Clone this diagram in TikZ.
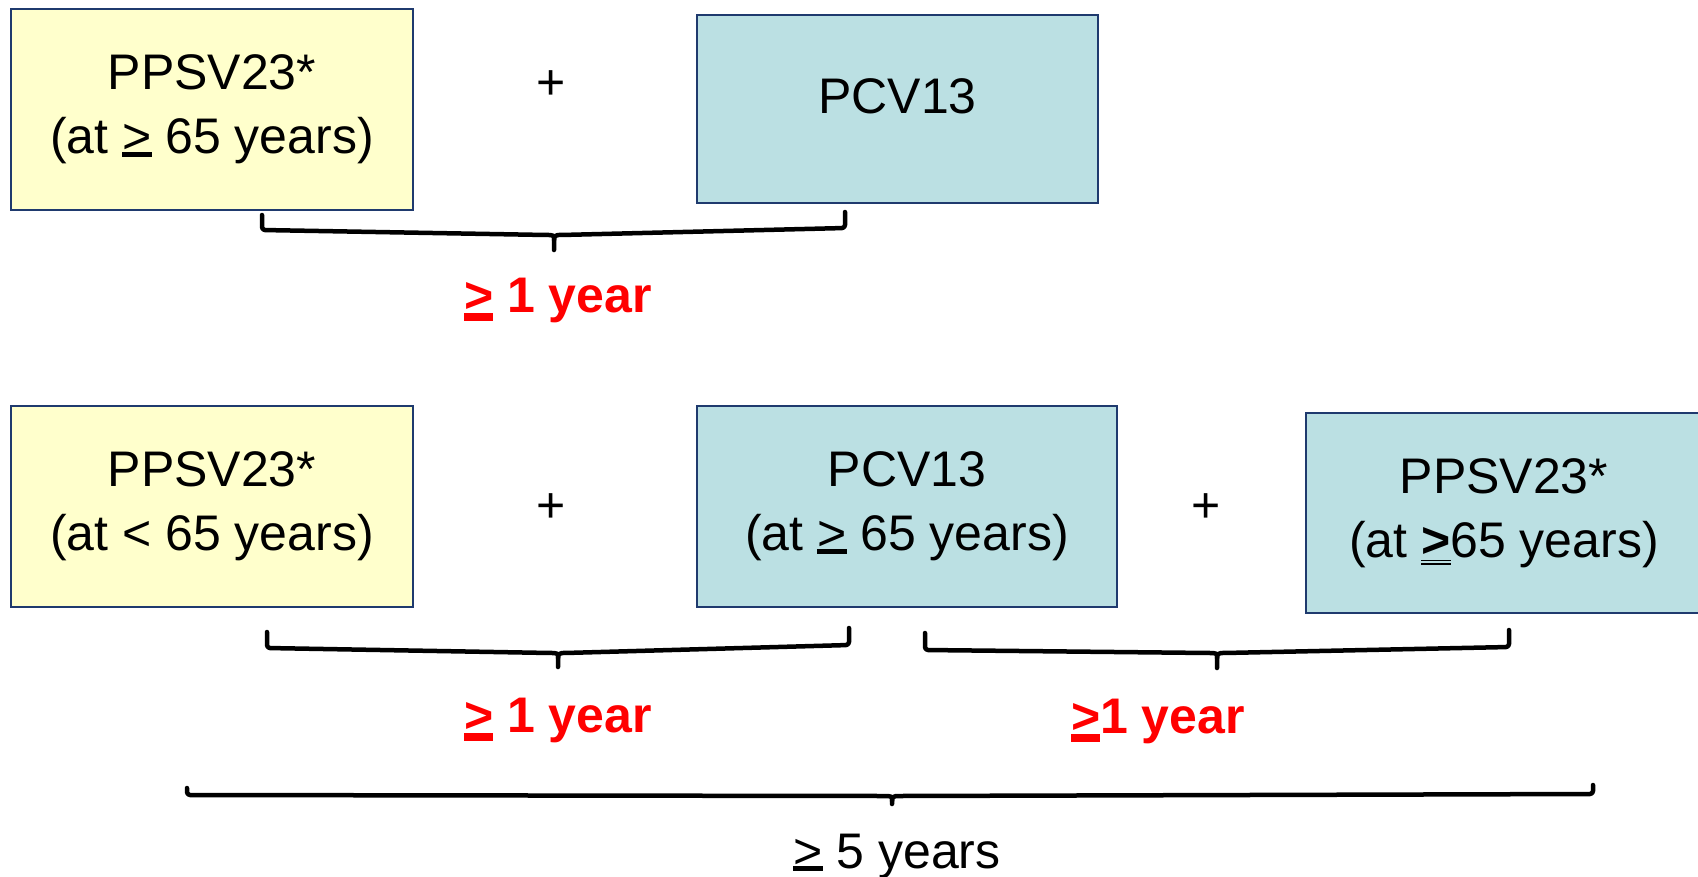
\documentclass[tikz,border=0pt]{standalone}
\usepackage{fontspec}
\setmainfont{Liberation Sans}
\definecolor{boxyellow}{HTML}{FFFFCC}
\definecolor{boxblue}{HTML}{BBE0E3}
\definecolor{boxline}{HTML}{1F3A6E}
\definecolor{redtxt}{HTML}{FF0000}
\newcommand\ulge[2]{\leavevmode\setbox0\hbox{>}\rlap{\rule[-#1]{\wd0}{#2}}\box0\relax}
\newcommand\dulge{\leavevmode\setbox0\hbox{\bfseries >}\rlap{\rule[-0.08em]{\wd0}{0.035em}}\rlap{\rule[-0.15em]{\wd0}{0.035em}}\box0\relax}
\newcommand\mybrace[9]{%
  \draw[bracestyle] (#1,#2) -- (#1,#3) -- ({#4-7},{#5}) .. controls ({#4-2},{#5}) and (#4,{#5+1}) .. (#4,{#5+5}) -- (#4,#6);
  \draw[bracestyle] (#7,#8) -- (#7,#9) -- ({#4+7},{#5}) .. controls ({#4+2},{#5}) and (#4,{#5+1}) .. (#4,{#5+5});}
\tikzset{
  vbox/.style={draw=boxline, line width=2pt, inner sep=0pt, align=center, font=\fontsize{50}{64}\selectfont},
  ybox/.style={vbox, fill=boxyellow},
  bbox/.style={vbox, fill=boxblue},
  bigtxt/.style={inner sep=0pt, font=\fontsize{50}{64}\selectfont},
  redlab/.style={inner sep=0pt, anchor=base, text=redtxt, font=\fontsize{50}{64}\selectfont\bfseries},
  bracestyle/.style={line width=4.5pt, rounded corners=3pt, line join=round, line cap=round}
}
\begin{document}
\begin{tikzpicture}[x=1pt,y=-1pt]
\clip (0,0) rectangle (1698,876);
\fill[white] (0,0) rectangle (1698,876);
% top row
\node[ybox, minimum width=402pt, minimum height=201pt] (a1) at (212,109.5) {PPSV23*\\(at \ulge{0.06em}{0.1em} 65 years)};
\node[bigtxt] (p1) at (551,85) {+};
\node[bbox, minimum width=401pt, minimum height=188pt] (a2) at (897.5,109) {};
\node[bigtxt, anchor=base] (a2t) at (897.5,113) {PCV13};
\mybrace{262}{215}{230}{554}{235}{250}{845}{212}{228}
\node[redlab] (r1) at (558,312) {\ulge{0.17em}{0.15em} 1 year};
% bottom row
\node[ybox, minimum width=402pt, minimum height=201pt] (b1) at (212,506.5) {PPSV23*\\(at < 65 years)};
\node[bigtxt] (p2) at (551,508) {+};
\node[bbox, minimum width=420pt, minimum height=201pt] (b2) at (907,506.5) {PCV13\\(at \ulge{0.06em}{0.1em} 65 years)};
\node[bigtxt] (p3) at (1206,508) {+};
\node[bbox, minimum width=396pt, minimum height=200pt] (b3) at (1504,513) {PPSV23*\\(at \dulge 65 years)};
\mybrace{267}{632}{648}{558}{653}{667}{849}{628}{645}
\mybrace{925}{633}{650}{1217}{653}{668}{1509}{630}{647}
\node[redlab] (r2) at (558,732) {\ulge{0.17em}{0.15em} 1 year};
\node[redlab] (r3) at (1158,733) {\ulge{0.17em}{0.15em}1 year};
\mybrace{187}{788}{795}{892}{796}{804}{1593}{785}{794}
\node[bigtxt, anchor=base] (t5) at (897,868) {\ulge{0.06em}{0.1em} 5 years};
\end{tikzpicture}
\end{document}
